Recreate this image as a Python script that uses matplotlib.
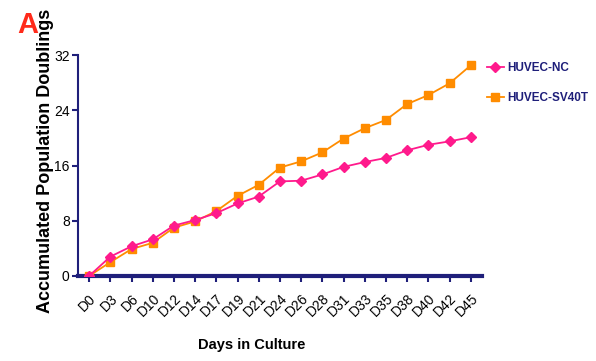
import numpy as np
import matplotlib.pyplot as plt

plt.rcParams['font.family'] = ['Liberation Sans', 'DejaVu Sans']

# ── Data ──────────────────────────────────────────────────────────────────────
days = ["D0", "D3", "D6", "D10", "D12", "D14", "D17", "D19", "D21", "D24",
        "D26", "D28", "D31", "D33", "D35", "D38", "D40", "D42", "D45"]
huvec_nc = [0.0, 2.8, 4.3, 5.3, 7.3, 8.1, 9.1, 10.5, 11.5, 13.7,
            13.8, 14.7, 15.8, 16.5, 17.1, 18.2, 19.0, 19.5, 20.1]
huvec_sv40t = [0.0, 2.0, 3.9, 4.8, 7.0, 7.9, 9.4, 11.6, 13.2, 15.7,
               16.6, 17.9, 19.9, 21.4, 22.6, 24.9, 26.2, 27.9, 30.5]

NAVY = "#1f1f7a"
PINK = "#ff1a8c"
ORANGE = "#ff8c00"

# ── Plot ──────────────────────────────────────────────────────────────────────
fig = plt.figure(figsize=(5.96, 3.61), dpi=100)
ax = fig.add_axes([0.131, 0.2355, 0.678, 0.612])

x = np.arange(len(days))
ax.plot(x, huvec_nc, color=PINK, marker="D", ms=5.5, lw=1.3, label="HUVEC-NC", zorder=4)
ax.plot(x, huvec_sv40t, color=ORANGE, marker="s", ms=5.5, lw=1.3, label="HUVEC-SV40T", zorder=3)

ax.set_xlim(-0.52, 18.54)
ax.set_ylim(0, 32)
ax.set_yticks([0, 8, 16, 24, 32])
ax.set_xticks(x)
ax.set_xticklabels(days, rotation=45, ha="right", rotation_mode="anchor")

for s in ["top", "right"]:
    ax.spines[s].set_visible(False)
ax.spines["left"].set_color(NAVY)
ax.spines["left"].set_linewidth(1.5)
ax.spines["bottom"].set_color(NAVY)
ax.spines["bottom"].set_linewidth(3)
ax.tick_params(axis="y", colors=NAVY, labelcolor="black", width=1.5, length=4,
               labelsize=10, pad=2)
ax.tick_params(axis="x", colors=NAVY, labelcolor="black", width=1.5, length=4,
               labelsize=10, pad=7)

ax.set_ylabel("Accumulated Population Doublings", fontsize=13, fontweight="bold")
ax.yaxis.set_label_coords(-0.06, 0.52)
ax.set_xlabel("Days in Culture", fontsize=10.5, fontweight="bold")
ax.xaxis.set_label_coords(0.43, -0.28)

leg = ax.legend(loc="upper left", bbox_to_anchor=(0.985, 1.015), frameon=False,
                handlelength=1.45, handletextpad=0.25, labelspacing=1.5,
                prop={"weight": "bold", "size": 8.5})
for t in leg.get_texts():
    t.set_color(NAVY)

fig.text(0.029, 0.909, "A", color="#ff2a1a", fontsize=21, fontweight="bold")

fig.savefig("out.png", dpi=100)
